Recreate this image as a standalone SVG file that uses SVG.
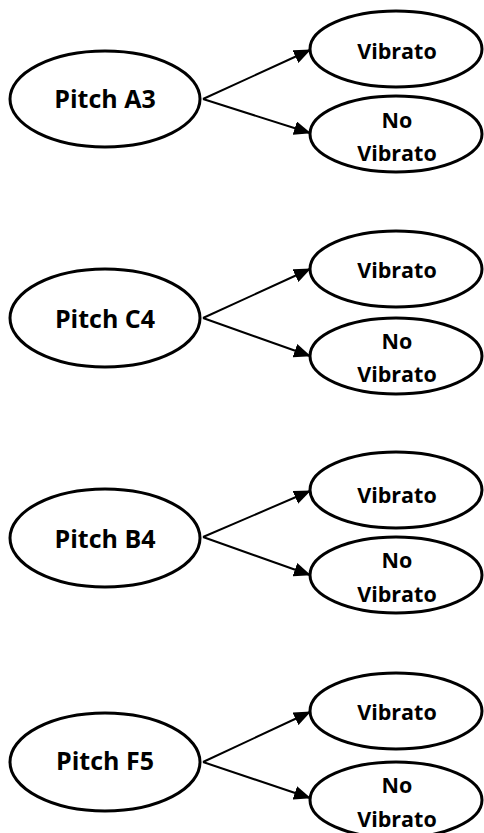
<svg xmlns="http://www.w3.org/2000/svg" width="484" height="833" viewBox="0 0 484 833">
<style>
.n{fill:#fff;stroke:#000;stroke-width:3}
.t{font-family:"Open Sans","Liberation Sans",sans-serif;font-weight:bold;fill:#000;text-anchor:middle}
.p{font-size:25px}
.v{font-size:21.5px}
.c{stroke:#000;stroke-width:2;fill:none;marker-end:url(#ah)}
</style>
<defs>
<marker id="ah" markerUnits="userSpaceOnUse" markerWidth="17" markerHeight="14" refX="16" refY="7" orient="auto">
<path d="M0,0 L17,7 L0,14 Z" fill="#000"/>
</marker>
</defs>
<rect width="484" height="833" fill="#fff"/>
<g id="connectors">
<path class="c" d="M203,99 L310,50"/>
<path class="c" d="M203,99 L310,133"/>
<path class="c" d="M203,318 L310,269"/>
<path class="c" d="M203,318 L310,356"/>
<path class="c" d="M203,537 L310,491"/>
<path class="c" d="M203,537 L310,575"/>
<path class="c" d="M203,762 L310,712"/>
<path class="c" d="M203,762 L310,798"/>
</g>
<g id="pitchA3"><ellipse class="n" cx="105" cy="99" rx="95" ry="48"/><text class="t p" x="105" y="108">Pitch A3</text></g>
<g id="a3vib"><ellipse class="n" cx="396" cy="49" rx="86" ry="38"/><text class="t v" x="397" y="59">Vibrato</text></g>
<g id="a3novib"><ellipse class="n" cx="396" cy="134" rx="86" ry="38"/><text class="t v" x="397" y="128">No</text><text class="t v" x="397" y="161">Vibrato</text></g>

<g id="pitchC4"><ellipse class="n" cx="105" cy="318" rx="95" ry="49"/><text class="t p" x="105" y="328">Pitch C4</text></g>
<g id="c4vib"><ellipse class="n" cx="396" cy="269" rx="86" ry="38"/><text class="t v" x="397" y="278">Vibrato</text></g>
<g id="c4novib"><ellipse class="n" cx="396" cy="356" rx="86" ry="38"/><text class="t v" x="397" y="349">No</text><text class="t v" x="397" y="382">Vibrato</text></g>

<g id="pitchB4"><ellipse class="n" cx="105" cy="538" rx="95" ry="49"/><text class="t p" x="105" y="548">Pitch B4</text></g>
<g id="b4vib"><ellipse class="n" cx="396" cy="490" rx="86" ry="38"/><text class="t v" x="397" y="503">Vibrato</text></g>
<g id="b4novib"><ellipse class="n" cx="396" cy="575" rx="86" ry="38"/><text class="t v" x="397" y="568">No</text><text class="t v" x="397" y="602">Vibrato</text></g>

<g id="pitchF5"><ellipse class="n" cx="105" cy="762" rx="95" ry="49"/><text class="t p" x="105" y="770">Pitch F5</text></g>
<g id="f5vib"><ellipse class="n" cx="396" cy="711" rx="86" ry="38"/><text class="t v" x="397" y="720">Vibrato</text></g>
<g id="f5novib"><ellipse class="n" cx="396" cy="800" rx="86" ry="38"/><text class="t v" x="397" y="793">No</text><text class="t v" x="397" y="827">Vibrato</text></g>
</svg>
